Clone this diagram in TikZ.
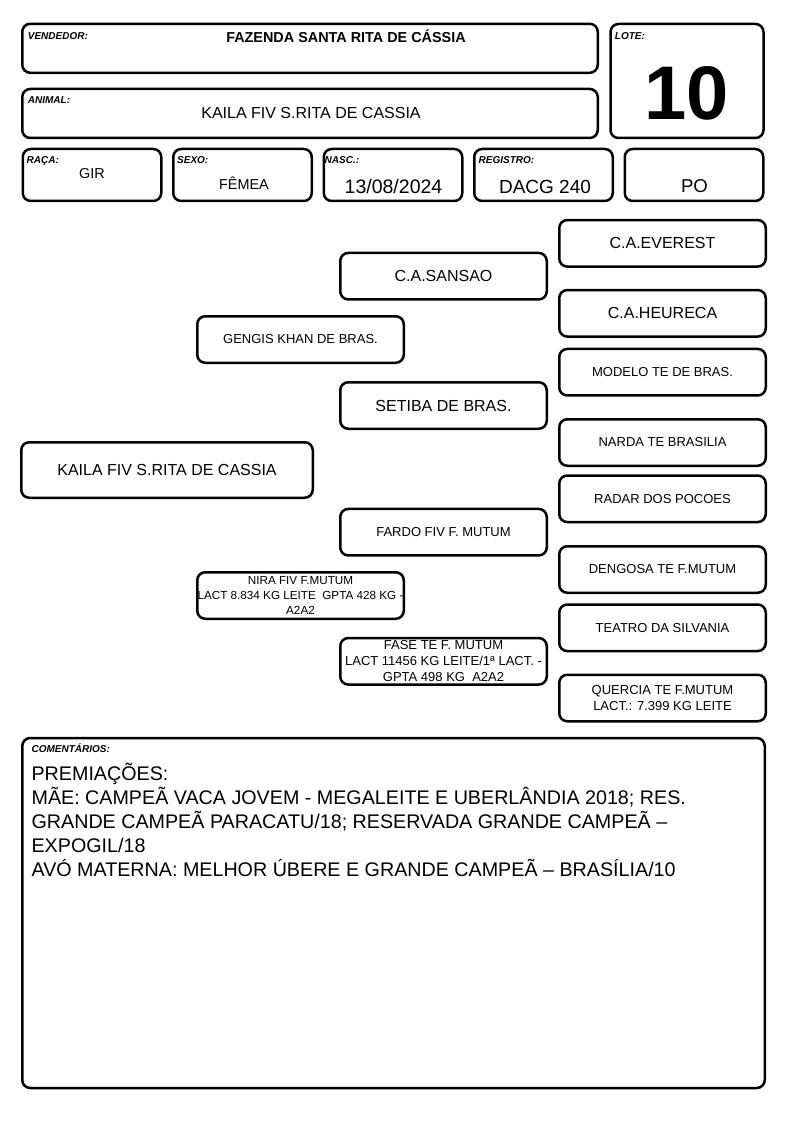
\documentclass[tikz,border=0pt]{standalone}
\usepackage{fontspec}
\setmainfont{Liberation Sans}
\usetikzlibrary{positioning}

\begin{document}
\begin{tikzpicture}[x=1pt,y=-1pt,
  box/.style={draw,rounded corners=8pt,line width=2.5pt,inner sep=0pt},
  row/.style={box,minimum width=138.5pt,minimum height=52pt},
  ped/.style={box,minimum width=206.5pt,minimum height=46.5pt,align=center},
  lbl/.style={anchor=base west,inner sep=0pt,font=\fontsize{10}{12}\selectfont\bfseries\itshape},
  big/.style={font=\fontsize{16}{19}\selectfont},
  med/.style={font=\fontsize{13}{16}\selectfont},
  sml/.style={font=\fontsize{11.7}{15}\selectfont},
  val/.style={anchor=base,inner sep=0pt}]
  \useasboundingbox (0,0) rectangle (794,1123);

  % header
  \node[box,minimum width=575.5pt,minimum height=49pt] (vend) at (310,48.3) {};
  \node[box,minimum width=153pt,minimum height=114pt] (lote) at (687,81) {};
  \node[box,minimum width=575.5pt,minimum height=49pt] (anim) at (310,113.5) {};
  \node[row] (raca) at (92,175) {};
  \node[row] (sexo) [right=9.5pt of raca] {};
  \node[row] (nasc) [right=9.5pt of sexo] {};
  \node[row] (reg) [right=9.5pt of nasc] {};
  \node[row] (po) [right=9.5pt of reg] {};

  \node[lbl] (vendl) at ([shift={(6.7,16.6)}]vend.north west) {VENDEDOR:};
  \node[lbl] (lotel) at ([shift={(5.5,16.3)}]lote.north west) {LOTE:};
  \node[lbl] (animl) at ([shift={(6.7,15.6)}]anim.north west) {ANIMAL:};
  \node[lbl] (racal) at ([shift={(5,15.6)}]raca.north west) {RAÇA:};
  \node[lbl] (sexol) at ([shift={(5,15.6)}]sexo.north west) {SEXO:};
  \node[lbl] (nascl) at ([shift={(2,15.6)}]nasc.north west) {NASC.:};
  \node[lbl] (regl) at ([shift={(5.5,15.6)}]reg.north west) {REGISTRO:};

  \node[val,font=\fontsize{14.4}{17}\selectfont\bfseries] (vendt) at (346,42.7) {FAZENDA SANTA RITA DE CÁSSIA};
  \node[val,font=\fontsize{76}{80}\selectfont\bfseries] (lotet) at (687,119.3) {10};
  \node[val,big] (animt) at (311,119) {KAILA FIV S.RITA DE CASSIA};
  \node[val,font=\fontsize{14.4}{17}\selectfont] (racat) at (92,178.3) {GIR};
  \node[val,font=\fontsize{14.4}{17}\selectfont] (sexot) at (244,189.3) {FÊMEA};
  \node[val,font=\fontsize{19.5}{22}\selectfont] (nasct) at (393.5,193.5) {13/08/2024};
  \node[val,font=\fontsize{19}{22}\selectfont] (regt) at (545,193.5) {DACG 240};
  \node[val,font=\fontsize{18.6}{22}\selectfont] (pot) at (694.5,192.7) {PO};

  % pedigree
  \node[box,minimum width=291.5pt,minimum height=55.5pt,big] (p) at (167,470) {KAILA FIV S.RITA DE CASSIA};
  \node[ped,med] (s) at (300.5,339.5) {GENGIS KHAN DE BRAS.};
  \node[ped,sml] (d) at (300.5,595.5) {NIRA FIV F.MUTUM\\LACT 8.834 KG LEITE\ \ GPTA 428 KG -\\A2A2};
  \node[ped,big] (ss) at (443.5,276.2) {C.A.SANSAO};
  \node[ped,big] (sd) at (443.5,405.5) {SETIBA DE BRAS.};
  \node[ped,med] (ds) at (443.5,532.2) {FARDO FIV F. MUTUM};
  \node[ped,med] (dd) at (443.5,661.3) {FASE TE F. MUTUM\\LACT 11456 KG LEITE/1ª LACT. -\\GPTA 498 KG\ \ A2A2};
  \node[ped,big] (sss) at (662.5,243.3) {C.A.EVEREST};
  \node[ped,big] (ssd) at (662.5,313.3) {C.A.HEURECA};
  \node[ped,med] (sds) at (662.5,372.2) {MODELO TE DE BRAS.};
  \node[ped,med] (sdd) at (662.5,442.5) {NARDA TE BRASILIA};
  \node[ped,med] (dss) at (662.5,498.8) {RADAR DOS POCOES};
  \node[ped,med] (dsd) at (662.5,569.5) {DENGOSA TE F.MUTUM};
  \node[ped,med] (dds) at (662.5,627.8) {TEATRO DA SILVANIA};
  \node[ped,med] (ddd) at (662.5,698) {QUERCIA TE F.MUTUM\\LACT.: 7.399 KG LEITE};

  % comments
  \node[box,minimum width=742.5pt,minimum height=350pt] (com) at (393.5,913) {};
  \node[lbl] (coml) at ([shift={(10.4,16)}]com.north west) {COMENTÁRIOS:};
  \node[anchor=base west,inner sep=0pt,align=left,font=\fontsize{19.7}{24.2}\selectfont] (comt) at (31.4,876.8)
    {PREMIAÇÕES:\\
     MÃE: CAMPEÃ VACA JOVEM - MEGALEITE E UBERLÂNDIA 2018; RES.\\
     GRANDE CAMPEÃ PARACATU/18; RESERVADA GRANDE CAMPEÃ –\\
     EXPOGIL/18\\
     AVÓ MATERNA: MELHOR ÚBERE E GRANDE CAMPEÃ – BRASÍLIA/10};
\end{tikzpicture}
\end{document}
